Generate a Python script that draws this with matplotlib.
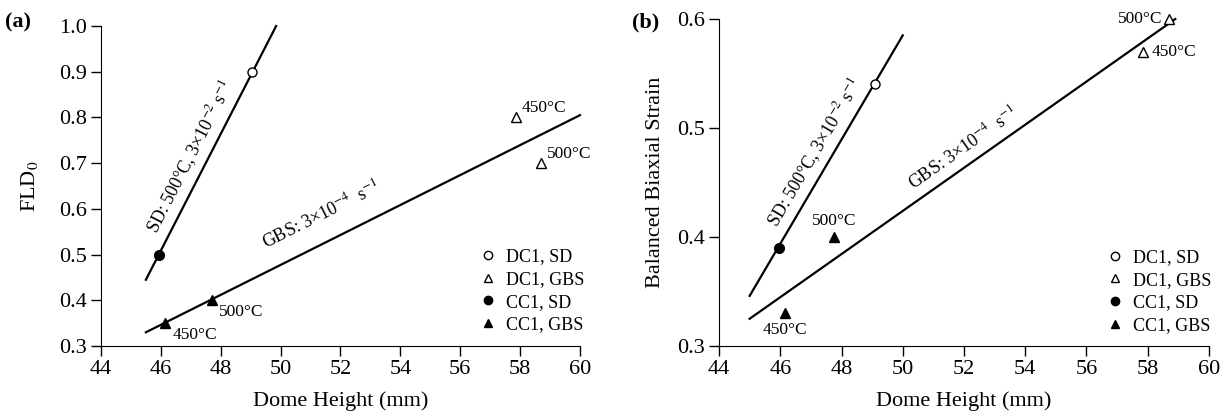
import numpy as np
import matplotlib
matplotlib.use('Agg')
from matplotlib import pyplot as plt
from matplotlib.lines import Line2D

plt.rcParams['font.family'] = ['Liberation Serif', 'DejaVu Serif']
plt.rcParams['mathtext.fontset'] = 'stix'

# ---- panel (a): FLD0 vs dome height ----
a_dc1_sd_x = [49.05]
a_dc1_sd_y = [0.90]
a_cc1_sd_x = [45.95]
a_cc1_sd_y = [0.50]
a_dc1_gbs_x = [57.85, 58.70]
a_dc1_gbs_y = [0.80, 0.70]
a_dc1_gbs_t = ['450°C', '500°C']
a_cc1_gbs_x = [46.15, 47.70]
a_cc1_gbs_y = [0.35, 0.40]
a_cc1_gbs_t = ['450°C', '500°C']
a_sd_fit_x = [45.5, 49.85]
a_sd_fit_y = [0.445, 1.0]
a_gbs_fit_x = [45.5, 60.0]
a_gbs_fit_y = [0.33, 0.805]

# ---- panel (b): balanced biaxial strain vs dome height ----
b_dc1_sd_x = [49.10]
b_dc1_sd_y = [0.54]
b_cc1_sd_x = [45.95]
b_cc1_sd_y = [0.39]
b_dc1_gbs_x = [57.85, 58.70]
b_dc1_gbs_y = [0.57, 0.60]
b_dc1_gbs_t = ['450°C', '500°C']
b_cc1_gbs_x = [46.15, 47.75]
b_cc1_gbs_y = [0.33, 0.40]
b_cc1_gbs_t = ['450°C', '500°C']
b_sd_fit_x = [45.0, 50.0]
b_sd_fit_y = [0.346, 0.585]
b_gbs_fit_x = [45.0, 58.9]
b_gbs_fit_y = [0.325, 0.60]

sd_label = 'SD: 500°C, 3×10$^{-2}$ s$^{-1}$'
gbs_label = 'GBS: 3×10$^{-4}$  s$^{-1}$'

fig = plt.figure(figsize=(12.27, 4.19), dpi=100)
axa = fig.add_axes([0.0823, 0.1742, 0.3904, 0.7637])
axb = fig.add_axes([0.586, 0.1742, 0.3993, 0.7804])


def style(ax, ylim, yticks, ylabel, ypad):
    ax.set_xlim(44, 60)
    ax.set_ylim(*ylim)
    ax.set_xticks(np.arange(44, 61, 2))
    ax.set_yticks(yticks)
    ax.spines['top'].set_visible(False)
    ax.spines['right'].set_visible(False)
    ax.tick_params(direction='out', length=7, width=1, labelsize=16, pad=3)
    ax.set_xlabel('Dome Height (mm)', fontsize=16, labelpad=9)
    ax.set_ylabel(ylabel, fontsize=16, labelpad=ypad)


def angle(ax, xs, ys):
    p = ax.transData.transform(np.column_stack([xs, ys]))
    return np.degrees(np.arctan2(p[1, 1] - p[0, 1], p[1, 0] - p[0, 0]))


style(axa, (0.3, 1.0), np.arange(0.3, 1.01, 0.1), 'FLD$_0$', 14)
style(axb, (0.3, 0.6), [0.3, 0.4, 0.5, 0.6], 'Balanced Biaxial Strain', 9)
axa.yaxis.set_major_formatter(matplotlib.ticker.FormatStrFormatter('%.1f'))
axb.yaxis.set_major_formatter(matplotlib.ticker.FormatStrFormatter('%.1f'))

for ax, d in [(axa, dict(sdx=a_sd_fit_x, sdy=a_sd_fit_y, gx=a_gbs_fit_x, gy=a_gbs_fit_y,
                         o=(a_dc1_sd_x, a_dc1_sd_y), c=(a_cc1_sd_x, a_cc1_sd_y),
                         ot=(a_dc1_gbs_x, a_dc1_gbs_y), ct=(a_cc1_gbs_x, a_cc1_gbs_y))),
              (axb, dict(sdx=b_sd_fit_x, sdy=b_sd_fit_y, gx=b_gbs_fit_x, gy=b_gbs_fit_y,
                         o=(b_dc1_sd_x, b_dc1_sd_y), c=(b_cc1_sd_x, b_cc1_sd_y),
                         ot=(b_dc1_gbs_x, b_dc1_gbs_y), ct=(b_cc1_gbs_x, b_cc1_gbs_y)))]:
    ax.plot(d['sdx'], d['sdy'], color='black', lw=1.6, clip_on=False)
    ax.plot(d['gx'], d['gy'], color='black', lw=1.6, clip_on=False)
    ax.plot(*d['o'], 'o', mfc='white', mec='black', ms=6.5, mew=1, clip_on=False, zorder=5)
    ax.plot(*d['c'], 'o', mfc='black', mec='black', ms=7, clip_on=False, zorder=5)
    ax.plot(*d['ot'], '^', mfc='white', mec='black', ms=6.5, mew=1, clip_on=False, zorder=5)
    ax.plot(*d['ct'], '^', mfc='black', mec='black', ms=6.5, clip_on=False, zorder=5)

# rotated fit-line labels
axa.text(47.0, 0.713, sd_label, fontsize=13, ha='center', va='center',
         rotation=angle(axa, a_sd_fit_x, a_sd_fit_y), rotation_mode='anchor')
axa.text(51.35, 0.588, gbs_label, fontsize=13, ha='center', va='center',
         rotation=angle(axa, a_gbs_fit_x, a_gbs_fit_y), rotation_mode='anchor')
axb.text(47.14, 0.477, sd_label, fontsize=13, ha='center', va='center',
         rotation=angle(axb, b_sd_fit_x, b_sd_fit_y), rotation_mode='anchor')
axb.text(51.97, 0.482, gbs_label, fontsize=13, ha='center', va='center',
         rotation=angle(axb, b_gbs_fit_x, b_gbs_fit_y), rotation_mode='anchor')

# temperature annotations
tk = dict(fontsize=12.5, textcoords='offset points')
axa.annotate(a_dc1_gbs_t[0], (a_dc1_gbs_x[0], a_dc1_gbs_y[0]), xytext=(4, 1), va='bottom', ha='left', **tk)
axa.annotate(a_dc1_gbs_t[1], (a_dc1_gbs_x[1], a_dc1_gbs_y[1]), xytext=(4, 1), va='bottom', ha='left', **tk)
axa.annotate(a_cc1_gbs_t[0], (a_cc1_gbs_x[0], a_cc1_gbs_y[0]), xytext=(5, -3), va='top', ha='left', **tk)
axa.annotate(a_cc1_gbs_t[1], (a_cc1_gbs_x[1], a_cc1_gbs_y[1]), xytext=(5, -3), va='top', ha='left', **tk)
axb.annotate(b_dc1_gbs_t[0], (b_dc1_gbs_x[0], b_dc1_gbs_y[0]), xytext=(6, 0), va='center', ha='left', **tk)
axb.annotate(b_dc1_gbs_t[1], (b_dc1_gbs_x[1], b_dc1_gbs_y[1]), xytext=(-5, 0), va='center', ha='right', **tk)
axb.annotate(b_cc1_gbs_t[0], (b_cc1_gbs_x[0], b_cc1_gbs_y[0]), xytext=(0, -6), va='top', ha='center', **tk)
axb.annotate(b_cc1_gbs_t[1], (b_cc1_gbs_x[1], b_cc1_gbs_y[1]), xytext=(0, 6), va='bottom', ha='center', **tk)

# legends
handles = [
    Line2D([], [], ls='none', marker='o', mfc='white', mec='black', ms=6),
    Line2D([], [], ls='none', marker='^', mfc='white', mec='black', ms=6),
    Line2D([], [], ls='none', marker='o', mfc='black', mec='black', ms=6),
    Line2D([], [], ls='none', marker='^', mfc='black', mec='black', ms=6),
]
names = ['DC1, SD', 'DC1, GBS', 'CC1, SD', 'CC1, GBS']
for ax, x0, y0 in [(axa, 0.79, 0.305), (axb, 0.79, 0.296)]:
    ax.legend(handles, names, loc='upper left', bbox_to_anchor=(x0, y0), frameon=False,
              fontsize=13, handlelength=1.0, handletextpad=0.5, labelspacing=0.31,
              borderpad=0, borderaxespad=0)

fig.text(0.004, 0.935, '(a)', fontsize=16, fontweight='bold')
fig.text(0.515, 0.935, '(b)', fontsize=16, fontweight='bold')

fig.savefig('out.png', dpi=100)
